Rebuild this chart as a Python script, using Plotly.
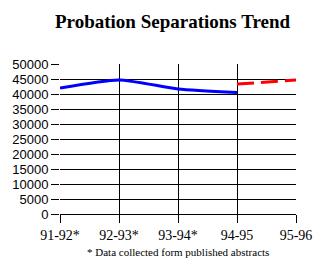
import plotly.graph_objects as go

categories = ["91-92*", "92-93*", "93-94*", "94-95", "95-96"]
actual_x = [0, 1, 2, 3]
actual_vals = [42000, 44700, 41700, 40500]
proj_x = [3, 4]
proj_vals = [43300, 44700]
y_ticks = list(range(0, 50001, 5000))

fig = go.Figure()
fig.add_trace(go.Scatter(x=actual_x, y=actual_vals, mode="lines",
                         line=dict(color="#0000FF", width=3, shape="spline", smoothing=0.6),
                         showlegend=False, cliponaxis=False))
fig.add_trace(go.Scatter(x=proj_x, y=proj_vals, mode="lines",
                         line=dict(color="#FF0000", width=3, dash="17px,7px"),
                         showlegend=False, cliponaxis=False))

fig.update_layout(
    width=324, height=278,
    margin=dict(l=56, r=25, t=64, b=64),
    paper_bgcolor="white", plot_bgcolor="white",
    xaxis=dict(range=[0, 4], tickvals=list(range(len(categories))), ticktext=categories,
               showgrid=True, gridcolor="black", gridwidth=1,
               ticks="outside", ticklen=8, tickcolor="black", tickwidth=1,
               zeroline=False, showline=False,
               tickfont=dict(family="Liberation Serif", size=14, color="black")),
    yaxis=dict(range=[0, 50000], tickvals=y_ticks, ticktext=[str(v) for v in y_ticks],
               showgrid=True, gridcolor="black", gridwidth=1,
               ticks="outside", ticklen=8, tickcolor="black", tickwidth=1,
               zeroline=True, zerolinecolor="black", zerolinewidth=1, showline=False,
               tickfont=dict(family="Liberation Sans", size=13, color="black")),
    annotations=[
        dict(text="<b>Probation Separations Trend</b>", xref="paper", yref="paper",
             showarrow=False, font=dict(family="Liberation Serif", size=19, color="black")),
        dict(text="* Data collected form published abstracts", xref="paper", yref="paper",
             showarrow=False, font=dict(family="Liberation Serif", size=11, color="black")),
    ],
)
pw = 324 - 56 - 25
ph = 278 - 64 - 64
fig.layout.annotations[0].update(x=(172 - 56) / pw, y=(214 - 22) / ph, xanchor="center", yanchor="middle")
fig.layout.annotations[1].update(x=(178 - 56) / pw, y=(214 - 252) / ph, xanchor="center", yanchor="middle")

fig.write_html("out.html")
